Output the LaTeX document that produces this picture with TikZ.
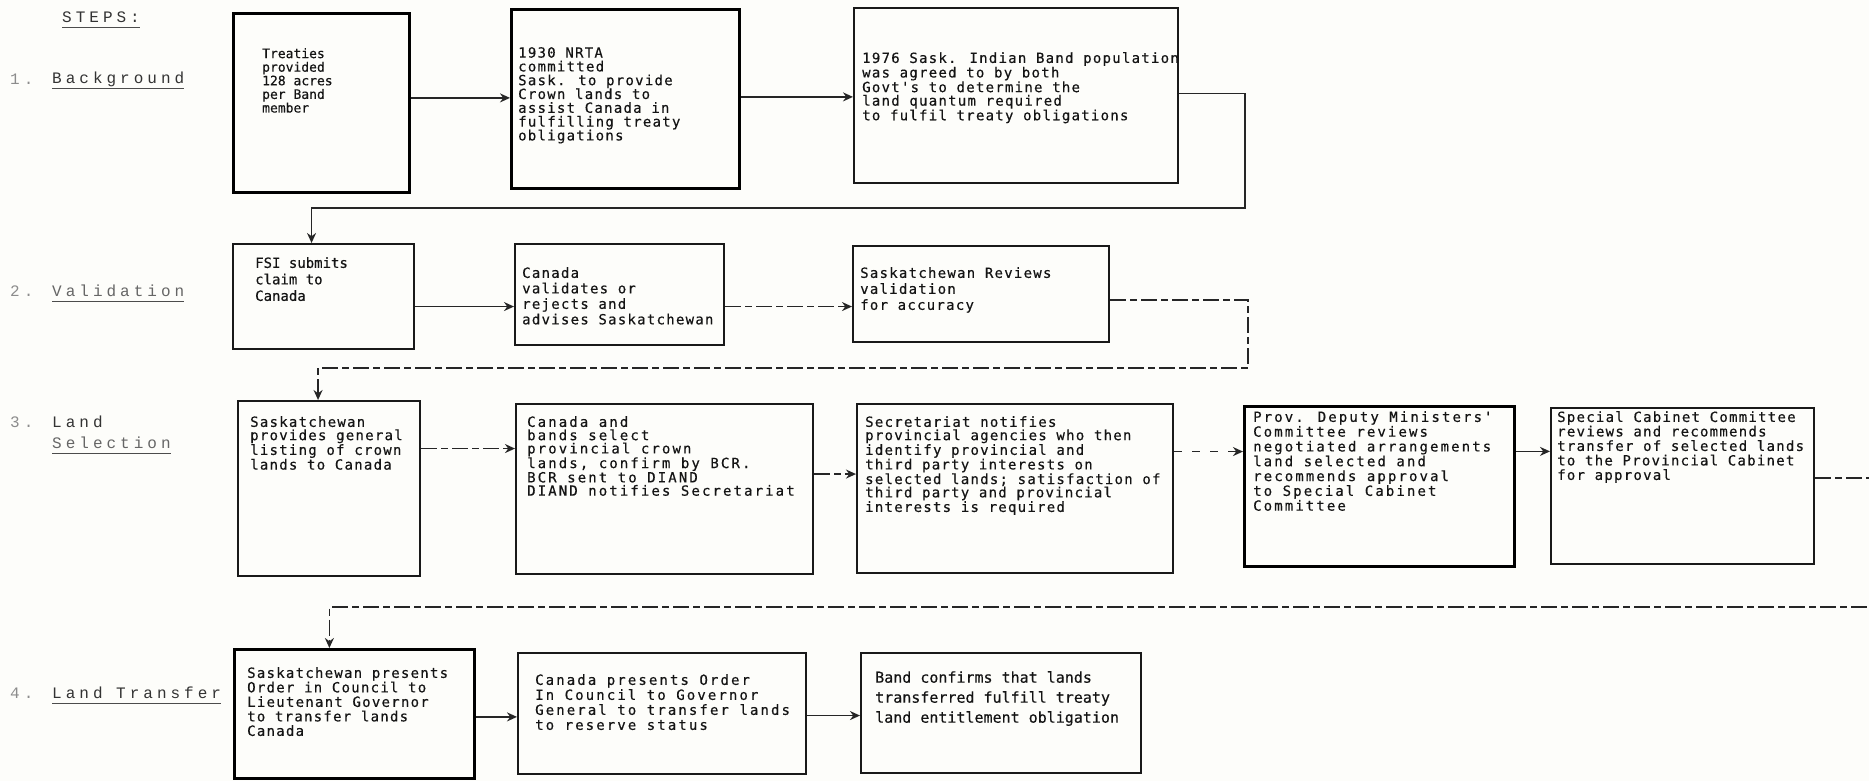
\documentclass[tikz,border=0pt]{standalone}
\usepackage{fontspec}
\usetikzlibrary{arrows.meta,calc}
\newfontfamily\boxA[FakeBold=0.4]{DejaVu Sans Mono}
\newfontfamily\boxB[LetterSpace=9,FakeBold=0.4]{DejaVu Sans Mono}
\newfontfamily\boxC[LetterSpace=15,FakeBold=0.4]{DejaVu Sans Mono}
\newfontfamily\lblfont[LetterSpace=25]{Liberation Mono}
\definecolor{paper}{RGB}{253,253,250}
\begin{document}
\begin{tikzpicture}[x=1pt,y=-1pt,
  box/.style={draw=black!90, line width=2.1pt, inner sep=0pt, anchor=north west},
  heavy/.style={line width=2.8pt, draw=black},
  txt/.style={anchor=north west, inner sep=0pt, align=left, text=black!92},
  arr/.style={draw=black!85, line width=1.6pt, -{Stealth[length=10pt,width=9pt]}},
  faded/.style={dash pattern=on 16pt off 4pt on 7pt off 4pt},
  lbl/.style={anchor=west, inner sep=0pt, font=\lblfont\fontsize{16}{18}\selectfont, text=black!80},
  num/.style={lbl, text=black!45},
  uline/.style={line width=1.2pt, draw=black!70},
]
\useasboundingbox (0,0) rectangle (1869,781);
\fill[paper] (0,0) rectangle (1869,781);
\clip (0,0) rectangle (1869,781);

% ---------- step labels ----------
\node[lbl] (steps) at (62,17) {STEPS:};
\draw[uline] ([yshift=-5pt]steps.base west) -- ([yshift=-5pt]steps.base east);
\node[num] (n1) at (10,79) {1.};
\node[lbl] (l1) at (52,79) {Background};
\draw[uline] ([yshift=-5pt]l1.base west) -- ([yshift=-5pt]l1.base east);
\node[num] (n2) at (10,291) {2.};
\node[lbl, text=black!60] (l2) at (52,291) {Validation};
\draw[uline] ([yshift=-5pt]l2.base west) -- ([yshift=-5pt]l2.base east);
\node[num] (n3) at (10,422) {3.};
\node[lbl] (l3a) at (52,422) {Land};
\node[lbl, text=black!60] (l3b) at (52,443) {Selection};
\draw[uline] ([yshift=-5pt]l3b.base west) -- ([yshift=-5pt]l3b.base east);
\node[num] (n4) at (10,693) {4.};
\node[lbl] (l4) at (52,693) {Land Transfer};
\draw[uline] ([yshift=-5pt]l4.base west) -- ([yshift=-5pt]l4.base east);

% ---------- row 1 ----------
\node[box, heavy, minimum width=176pt, minimum height=179pt] (b1) at (232,12) {};
\node[txt, font=\boxA\fontsize{13}{13.6}\selectfont] (t1) at (262,48)
  {Treaties\\provided\\128 acres\\per Band\\member};
\node[box, heavy, minimum width=228pt, minimum height=179pt] (b2) at (510,8) {};
\node[txt, font=\boxB\fontsize{14}{13.8}\selectfont] (t2) at (518,47)
  {1930 NRTA\\committed\\Sask. to provide\\Crown lands to\\assist Canada in\\fulfilling treaty\\obligations};
\node[box, minimum width=324pt, minimum height=175pt] (b3) at (853,7) {};
\node[txt, font=\boxB\fontsize{14}{13.5}\selectfont] (t3) at (862,52)
  {1976 Sask. Indian Band population\\was agreed to by both\\Govt's to determine the\\land quantum required\\to fulfil treaty obligations};

% ---------- row 2 ----------
\node[box, minimum width=181pt, minimum height=105pt] (b4) at (232,243) {};
\node[txt, font=\boxA\fontsize{14}{16.5}\selectfont] (t4) at (255,257)
  {FSI submits\\claim to\\Canada};
\node[box, minimum width=209pt, minimum height=101pt] (b5) at (514,243) {};
\node[txt, font=\boxB\fontsize{14}{15.5}\selectfont] (t5) at (522,267)
  {Canada\\validates or\\rejects and\\advises Saskatchewan};
\node[box, minimum width=256pt, minimum height=96pt] (b6) at (852,245) {};
\node[txt, font=\boxB\fontsize{14}{16}\selectfont] (t6) at (860,267)
  {Saskatchewan Reviews\\validation\\for accuracy};

% ---------- row 3 ----------
\node[box, minimum width=182pt, minimum height=175pt] (b7) at (237,400) {};
\node[txt, font=\boxB\fontsize{14}{13.3}\selectfont] (t7) at (250,416)
  {Saskatchewan\\provides general\\listing of crown\\lands to Canada};
\node[box, minimum width=297pt, minimum height=170pt] (b8) at (515,403) {};
\node[txt, font=\boxC\fontsize{14}{13.3}\selectfont] (t8) at (527,416)
  {Canada and\\bands select\\provincial crown\\lands, confirm by BCR.\\BCR sent to DIAND\\DIAND notifies Secretariat};
\node[box, minimum width=316pt, minimum height=169pt] (b9) at (856,403) {};
\node[txt, font=\boxB\fontsize{14}{13.3}\selectfont] (t9) at (865,416)
  {Secretariat notifies\\provincial agencies who then\\identify provincial and\\third party interests on\\selected lands; satisfaction of\\third party and provincial\\interests is required};
\node[box, heavy, minimum width=270pt, minimum height=160pt] (b10) at (1243,405) {};
\node[txt, font=\boxC\fontsize{14}{14.8}\selectfont] (t10) at (1253,411)
  {Prov. Deputy Ministers'\\Committee reviews\\negotiated arrangements\\land selected and\\recommends approval\\to Special Cabinet\\Committee};
\node[box, minimum width=263pt, minimum height=156pt] (b11) at (1550,407) {};
\node[txt, font=\boxB\fontsize{14}{14.5}\selectfont] (t11) at (1557,411)
  {Special Cabinet Committee\\reviews and recommends\\transfer of selected lands\\to the Provincial Cabinet\\for approval};

% ---------- row 4 ----------
\node[box, heavy, minimum width=240pt, minimum height=129pt] (b12) at (233,648) {};
\node[txt, font=\boxB\fontsize{14}{14.5}\selectfont] (t12) at (247,667)
  {Saskatchewan presents\\Order in Council to\\Lieutenant Governor\\to transfer lands\\Canada};
\node[box, minimum width=288pt, minimum height=121pt] (b13) at (517,652) {};
\node[txt, font=\boxC\fontsize{14}{15}\selectfont] (t13) at (535,674)
  {Canada presents Order\\In Council to Governor\\General to transfer lands\\to reserve status};
\node[box, minimum width=280pt, minimum height=120pt] (b14) at (860,652) {};
\node[txt, font=\boxA\fontsize{15}{20}\selectfont] (t14) at (875,671)
  {Band confirms that lands\\transferred fulfill treaty\\land entitlement obligation};

% ---------- connectors ----------
\draw[arr] ([yshift=5pt]b1.east) -- ([yshift=5pt]b1.east -| b2.west);
\draw[arr] ([yshift=2pt]b2.east) -- ([yshift=2pt]b2.east -| b3.west);
\coordinate (r1) at (1245,208);
\draw[arr] ([yshift=2pt]b3.east) -| (r1) -| ([xshift=-12pt]b4.north);

\draw[arr] ([yshift=-10pt]b4.east) -- ([yshift=-10pt]b4.east -| b5.west);
\draw[arr, faded] ([yshift=-12pt]b5.east) -- ([yshift=-12pt]b5.east -| b6.west);
\coordinate (r2) at (1248,368);
\draw[arr, faded] ([yshift=-6pt]b6.east) -| (r2) -| ([xshift=-11pt]b7.north);

\draw[arr, faded] ([yshift=40pt]b7.east) -- ([yshift=40pt]b7.east -| b8.west);
\draw[arr, faded] ([yshift=15pt]b8.east) -- ([yshift=15pt]b8.east -| b9.west);
\draw[arr, dash pattern=on 8pt off 10pt] ([yshift=37pt]b9.east) -- ([yshift=37pt]b9.east -| b10.west);
\draw[arr] ([yshift=35pt]b10.east) -- ([yshift=35pt]b10.east -| b11.west);
\coordinate (r3) at (1885,607);
\draw[arr, faded] ([yshift=8pt]b11.east) -| (r3) -| ([xshift=-25pt]b12.north);

\draw[arr] ([yshift=-3pt]b12.east) -- ([yshift=-3pt]b12.east -| b13.west);
\draw[arr] ([yshift=-2pt]b13.east) -- ([yshift=-2pt]b13.east -| b14.west);
\end{tikzpicture}
\end{document}
